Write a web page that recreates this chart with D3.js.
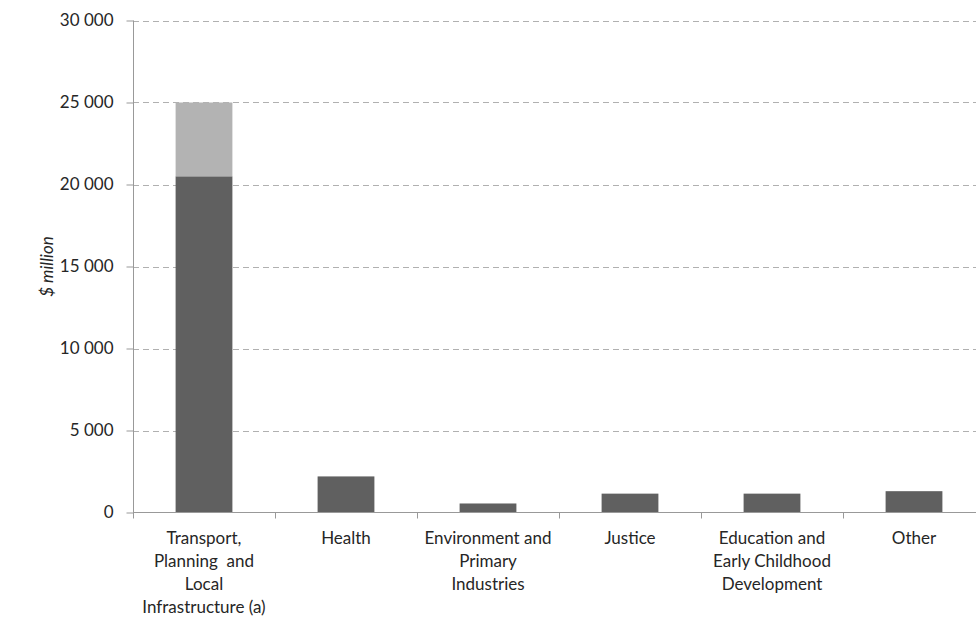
<!DOCTYPE html>
<html>
<head>
<meta charset="utf-8">
<script src="https://cdn.jsdelivr.net/npm/d3@7"></script>
<style>
  html, body { margin: 0; padding: 0; background: #fff; overflow: hidden; }
  svg { display: block; }
  text { font-family: Lato, "Open Sans", sans-serif; fill: #262626; }
</style>
</head>
<body>
<svg id="chart" width="976" height="617"></svg>
<script>
// ---- data ----
const categories = [
  "Transport, Planning and Local Infrastructure (a)",
  "Health",
  "Environment and Primary Industries",
  "Justice",
  "Education and Early Childhood Development",
  "Other"
];
const categoryLines = [
  ["Transport,", "Planning\u00a0 and", "Local", "Infrastructure (a)"],
  ["Health"],
  ["Environment and", "Primary", "Industries"],
  ["Justice"],
  ["Education and", "Early Childhood", "Development"],
  ["Other"]
];
const baseValues = [20500, 2200, 550, 1150, 1150, 1300];
const extraValues = [4500, 0, 0, 0, 0, 0];
const yTicks = [0, 5000, 10000, 15000, 20000, 25000, 30000];
const yTickLabels = ["0", "5 000", "10 000", "15 000", "20 000", "25 000", "30 000"];
const yTitle = "$ million";

// ---- layout ----
(function () {
const svg = d3.select("#chart");
const pLeft = 133, pRight = 985, pTop = 20.5, pBottom = 512.5;

const x = d3.scaleBand().domain(categories).range([pLeft, pRight])
  .paddingInner(0.6).paddingOuter(0.3);
const y = d3.scaleLinear().domain([0, 30000]).range([pBottom, pTop]);

// gridlines
svg.append("g").selectAll("line")
  .data(yTicks.filter(d => d > 0))
  .join("line")
  .attr("x1", pLeft).attr("x2", pRight)
  .attr("y1", d => Math.round(y(d)) + 0.5).attr("y2", d => Math.round(y(d)) + 0.5)
  .attr("stroke", "#b0b0b0").attr("stroke-width", 1)
  .attr("stroke-dasharray", "6,4");

// bars
const rows = categories.map((c, i) => ({ c, base: baseValues[i], extra: extraValues[i] }));
svg.append("g").selectAll("rect")
  .data(rows).join("rect")
  .attr("x", d => x(d.c)).attr("width", x.bandwidth())
  .attr("y", d => y(d.base)).attr("height", d => y(0) - y(d.base))
  .attr("fill", "#606060");
svg.append("g").selectAll("rect")
  .data(rows.filter(d => d.extra > 0)).join("rect")
  .attr("x", d => x(d.c)).attr("width", x.bandwidth())
  .attr("y", d => y(d.base + d.extra)).attr("height", d => y(d.base) - y(d.base + d.extra))
  .attr("fill", "#b3b3b3");

// y axis
const yAxis = d3.axisLeft(y).tickValues(yTicks)
  .tickFormat((d, i) => yTickLabels[i]).tickSize(7).tickPadding(13);
const gy = svg.append("g").attr("transform", `translate(${pLeft + 0.5},0)`).call(yAxis);
gy.select(".domain").attr("stroke", "#999").attr("d", `M0,${pTop}V${pBottom}`);
gy.selectAll(".tick line").attr("stroke", "#999");
gy.selectAll(".tick text").attr("font-size", 17).attr("font-family", "Lato, sans-serif").attr("fill", "#262626");

// x axis line
svg.append("line")
  .attr("x1", pLeft).attr("x2", pRight)
  .attr("y1", pBottom).attr("y2", pBottom)
  .attr("stroke", "#999");

// category boundary ticks
const step = x.step();
svg.append("g").selectAll("line")
  .data(d3.range(categories.length + 1))
  .join("line")
  .attr("x1", i => Math.round(pLeft + i * step) + 0.5)
  .attr("x2", i => Math.round(pLeft + i * step) + 0.5)
  .attr("y1", pBottom).attr("y2", pBottom + 6)
  .attr("stroke", "#999");

// category labels
const lab = svg.append("g").selectAll("text")
  .data(categories.map((c, i) => ({ c, lines: categoryLines[i] })))
  .join("text")
  .attr("text-anchor", "middle")
  .attr("font-size", 17)
  .attr("x", d => x(d.c) + x.bandwidth() / 2)
  .attr("y", 544);
lab.selectAll("tspan")
  .data(d => d.lines.map(l => ({ l, cx: x(d.c) + x.bandwidth() / 2 })))
  .join("tspan")
  .attr("x", d => d.cx)
  .attr("dy", (d, i) => i === 0 ? 0 : 23)
  .text(d => d.l);

// y title
svg.append("text")
  .attr("transform", `translate(53,${(pTop + pBottom) / 2}) rotate(-90)`)
  .attr("text-anchor", "middle")
  .attr("font-size", 17)
  .attr("font-style", "italic")
  .text(yTitle);
})();
</script>
</body>
</html>
